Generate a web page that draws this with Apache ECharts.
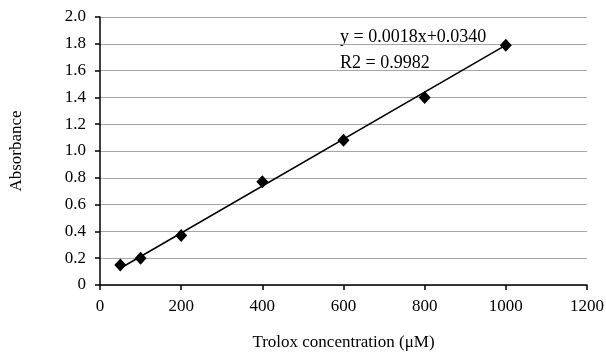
<!DOCTYPE html>
<html>
<head>
<meta charset="utf-8">
<script src="https://cdn.jsdelivr.net/npm/echarts@6/dist/echarts.min.js"></script>
<style>
  html, body { margin: 0; padding: 0; background: #fff; }
  #chart { width: 606px; height: 360px; }
</style>
</head>
<body>
<div id="chart"></div>
<script>
// measured points
const concentration = [50, 100, 200, 400, 600, 800, 1000];
const absorbance = [0.15, 0.20, 0.37, 0.77, 1.08, 1.40, 1.79];
// linear trend line end points as drawn
const trendX = [50, 1000];
const trendY = [0.125, 1.79];
const xTicks = [0, 200, 400, 600, 800, 1000, 1200];
const yTicks = [0, 0.2, 0.4, 0.6, 0.8, 1.0, 1.2, 1.4, 1.6, 1.8, 2.0];

const font = 'Liberation Serif, Times New Roman, serif';
const chart = echarts.init(document.getElementById('chart'));

const option = {
  animation: false,
  backgroundColor: '#fff',
  grid: { left: 100, top: 17, right: 19, bottom: 75, containLabel: false, outerBoundsMode: 'none' },
  xAxis: {
    type: 'value',
    min: xTicks[0],
    max: xTicks[xTicks.length - 1],
    interval: 200,
    name: 'Trolox concentration (μM)',
    nameLocation: 'middle',
    nameGap: 49,
    nameTextStyle: { fontFamily: font, fontSize: 17, color: '#000' },
    axisLine: { lineStyle: { color: '#000', width: 1.5 } },
    axisTick: { show: true, length: 5, lineStyle: { color: '#000', width: 1.5 } },
    axisLabel: {
      fontFamily: font, fontSize: 17, color: '#000', margin: 13,
      formatter: v => String(v)
    },
    splitLine: { show: false }
  },
  yAxis: {
    type: 'value',
    min: yTicks[0],
    max: yTicks[yTicks.length - 1],
    interval: 0.2,
    name: 'Absorbance',
    nameLocation: 'middle',
    nameGap: 75,
    nameTextStyle: { fontFamily: font, fontSize: 17, color: '#000' },
    axisLine: { show: true, lineStyle: { color: '#000', width: 1.5 } },
    axisTick: { show: true, length: 5, lineStyle: { color: '#000', width: 1.5 } },
    axisLabel: {
      fontFamily: font, fontSize: 17, color: '#000', margin: 14,
      formatter: v => (v === 0 ? '0' : v.toFixed(1))
    },
    splitLine: { show: true, lineStyle: { color: '#a6a6a6', width: 1 } }
  },
  series: [
    {
      type: 'line',
      data: trendX.map((x, i) => [x, trendY[i]]),
      symbol: 'none',
      lineStyle: { color: '#000', width: 1.5 },
      z: 2
    },
    {
      type: 'scatter',
      data: concentration.map((x, i) => [x, absorbance[i]]),
      symbol: 'diamond',
      symbolSize: [12, 13],
      itemStyle: { color: '#000', opacity: 1 },
      z: 3
    }
  ],
  graphic: [
    {
      type: 'text', left: 340, top: 28,
      style: { text: 'y = 0.0018x+0.0340', font: '18px ' + font, fill: '#000' }
    },
    {
      type: 'text', left: 340, top: 54,
      style: { text: 'R2 = 0.9982', font: '18px ' + font, fill: '#000' }
    }
  ]
};

chart.setOption(option);
</script>
</body>
</html>
